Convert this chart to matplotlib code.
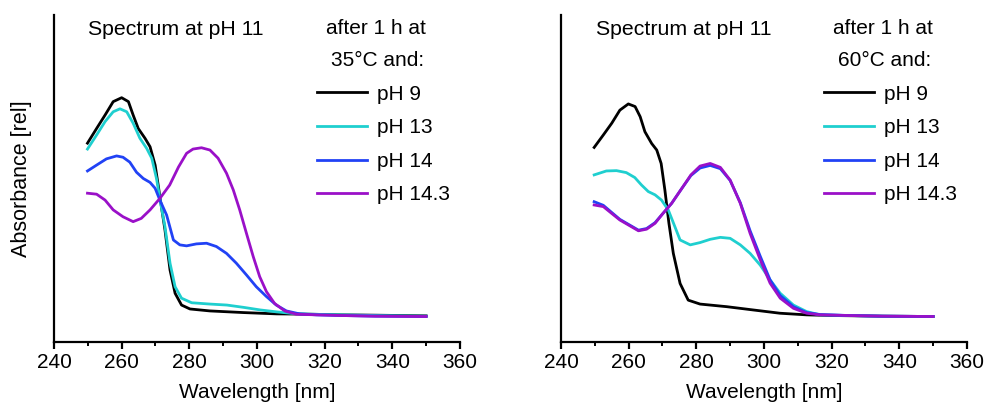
import numpy as np
import matplotlib.pyplot as plt

plt.rcParams['font.family'] = ['Liberation Sans', 'DejaVu Sans']

# ---- left panel: 1 h at 35 C ----
wl_a9 = [249.9, 252.6, 255.1, 257.5, 260.0, 262.0, 263.4, 264.9, 266.9, 268.4, 269.9, 270.8, 271.3, 272.8,
         274.3, 275.8, 277.7, 280.2, 286.1, 296.0, 305.8, 315.7, 325, 335, 350]
a_a9 = [0.608, 0.653, 0.694, 0.735, 0.747, 0.735, 0.694, 0.653, 0.623, 0.597, 0.541, 0.480, 0.444, 0.343,
        0.220, 0.149, 0.113, 0.101, 0.095, 0.090, 0.086, 0.085, 0.083, 0.082, 0.080]

wl_a13 = [249.9, 252.6, 255.1, 257.5, 259.5, 261.5, 263.4, 265.4, 267.4, 268.9, 270.3, 271.8, 272.8, 274.3,
          275.8, 277.7, 280.7, 286.1, 291.1, 296.0, 301.0, 305.9, 310.8, 315.7, 325, 335, 350]
a_a13 = [0.590, 0.633, 0.674, 0.704, 0.713, 0.704, 0.669, 0.623, 0.592, 0.562, 0.500, 0.409, 0.353, 0.241,
         0.169, 0.134, 0.120, 0.116, 0.113, 0.106, 0.098, 0.092, 0.087, 0.085, 0.083, 0.081, 0.079]

wl_a14 = [249.9, 252.6, 255.5, 258.5, 260.4, 262.4, 264.4, 266.4, 268.4, 269.9, 271.3, 273.3, 275.3, 277.2,
          279.2, 282.1, 285.1, 288.0, 291.0, 293.9, 296.9, 299.8, 302.8, 305.7, 308.7, 312.6, 317.6, 325,
          335, 350]
a_a14 = [0.523, 0.541, 0.560, 0.569, 0.565, 0.550, 0.519, 0.500, 0.488, 0.470, 0.434, 0.388, 0.312, 0.297,
         0.294, 0.300, 0.302, 0.292, 0.271, 0.241, 0.205, 0.169, 0.139, 0.113, 0.095, 0.086, 0.083, 0.081,
         0.079, 0.078]

wl_a143 = [249.9, 252.6, 255.1, 257.5, 260.4, 263.4, 265.8, 268.4, 271.3, 274.2, 276.8, 279.2, 281.1, 283.6,
           286.1, 288.5, 291.0, 293.0, 294.9, 296.9, 298.9, 300.8, 302.8, 305.2, 308.2, 311.6, 317.6, 325,
           335, 350]
a_a143 = [0.455, 0.452, 0.434, 0.404, 0.383, 0.368, 0.378, 0.404, 0.439, 0.480, 0.535, 0.577, 0.590, 0.594,
          0.587, 0.562, 0.516, 0.465, 0.404, 0.332, 0.261, 0.200, 0.154, 0.118, 0.095, 0.085, 0.083, 0.081,
          0.079, 0.078]

# ---- right panel: 1 h at 60 C ----
wl_b9 = [249.8, 252.5, 255.0, 257.4, 259.9, 261.9, 263.4, 264.8, 266.8, 268.3, 269.6, 270.7, 271.9, 273.2,
         275.2, 277.6, 281.1, 289.0, 296.8, 304.7, 312.6, 320, 335, 350]
a_b9 = [0.595, 0.633, 0.669, 0.709, 0.728, 0.720, 0.689, 0.643, 0.607, 0.587, 0.546, 0.465, 0.363, 0.271,
        0.179, 0.128, 0.116, 0.108, 0.098, 0.088, 0.083, 0.081, 0.079, 0.078]

wl_b13 = [249.8, 253.4, 256.4, 259.3, 261.8, 263.8, 265.8, 267.8, 269.7, 271.7, 273.0, 275.2, 278.2, 281.1,
          284.1, 287.1, 290.0, 293.0, 295.9, 298.9, 301.8, 304.8, 308.7, 312.6, 316.6, 325, 335, 350]
a_b13 = [0.511, 0.523, 0.524, 0.518, 0.503, 0.480, 0.460, 0.450, 0.434, 0.404, 0.370, 0.312, 0.297, 0.304,
         0.314, 0.320, 0.317, 0.297, 0.271, 0.235, 0.190, 0.149, 0.113, 0.093, 0.083, 0.081, 0.079, 0.078]

wl_b14 = [249.8, 252.5, 255.0, 257.4, 259.9, 262.9, 265.3, 267.8, 270.2, 272.7, 275.4, 278.4, 281.1, 284.1,
          287.1, 290.0, 293.0, 295.9, 298.9, 301.8, 304.8, 308.7, 312.6, 316.6, 325, 335, 350]
a_b14 = [0.429, 0.418, 0.396, 0.375, 0.360, 0.342, 0.347, 0.365, 0.394, 0.424, 0.465, 0.509, 0.532, 0.540,
         0.530, 0.494, 0.426, 0.340, 0.262, 0.190, 0.142, 0.108, 0.090, 0.084, 0.081, 0.079, 0.078]

wl_b143 = [249.8, 252.5, 255.0, 257.4, 259.9, 262.9, 265.3, 267.8, 270.2, 272.7, 275.4, 278.4, 281.1, 284.1,
           287.1, 290.0, 293.0, 295.9, 298.9, 301.8, 304.8, 308.7, 312.6, 316.6, 325, 335, 350]
a_b143 = [0.419, 0.414, 0.393, 0.373, 0.358, 0.340, 0.345, 0.363, 0.394, 0.424, 0.465, 0.511, 0.538, 0.546,
          0.534, 0.495, 0.424, 0.332, 0.251, 0.180, 0.134, 0.103, 0.088, 0.083, 0.081, 0.079, 0.078]

labels = ['pH 9', 'pH 13', 'pH 14', 'pH 14.3']
colors = ['black', '#1fcfcf', '#2142f5', '#9a10c8']
temps = ['35°C', '60°C']

panels = [
    [(wl_a9, a_a9), (wl_a13, a_a13), (wl_a14, a_a14), (wl_a143, a_a143)],
    [(wl_b9, a_b9), (wl_b13, a_b13), (wl_b14, a_b14), (wl_b143, a_b143)],
]

fig = plt.figure(figsize=(9.87, 4.07), dpi=100)
axes = [fig.add_axes([0.0547, 0.1597, 0.4113, 0.8035]),
        fig.add_axes([0.5684, 0.1597, 0.4113, 0.8035])]

for ax, curves, temp in zip(axes, panels, temps):
    for (wl, ab), lab, c in zip(curves, labels, colors):
        ax.plot(wl, ab, color=c, lw=2, label=lab, solid_joinstyle='round')
    ax.set_xlim(240, 360)
    ax.set_ylim(0, 1)
    ax.set_xticks(np.arange(240, 361, 20))
    ax.set_xticks(np.arange(250, 360, 20), minor=True)
    ax.set_yticks([])
    ax.spines['top'].set_visible(False)
    ax.spines['right'].set_visible(False)
    ax.spines['left'].set_linewidth(1.6)
    ax.spines['bottom'].set_linewidth(1.6)
    ax.tick_params(axis='x', which='major', length=5, width=1.6, labelsize=15, pad=3)
    ax.tick_params(axis='x', which='minor', length=3, width=1.4)
    ax.set_xlabel('Wavelength [nm]', fontsize=15, labelpad=8)
    ax.text(0.085, 0.955, 'Spectrum at pH 11', transform=ax.transAxes,
            fontsize=15.3, ha='left', va='center')
    ax.text(0.793, 0.96, 'after 1 h at', transform=ax.transAxes,
            fontsize=15, ha='center', va='center')
    ax.text(0.797, 0.862, temp + ' and:', transform=ax.transAxes,
            fontsize=15, ha='center', va='center')
    ax.legend(loc='upper left', bbox_to_anchor=(0.648, 0.787), frameon=False,
              fontsize=15, handlelength=2.4, handletextpad=0.5,
              labelspacing=0.7, borderpad=0, borderaxespad=0)

axes[0].set_ylabel('Absorbance [rel]', fontsize=15.5, labelpad=16)

fig.savefig('out.png', dpi=100)
